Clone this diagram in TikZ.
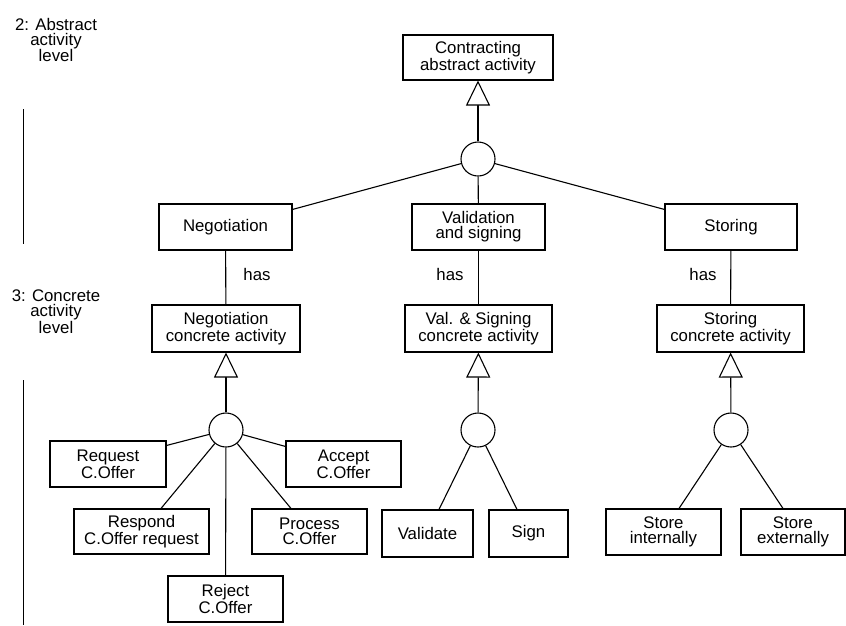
\documentclass[tikz,border=0pt]{standalone}
\usepackage{fontspec}
\setmainfont{Liberation Sans}
\usetikzlibrary{arrows.meta}
\begin{document}
\begin{tikzpicture}[x=1pt,y=-1pt,line width=1.1pt,
  every node/.style={font=\fontsize{16.8pt}{15pt}\selectfont},
  box/.style={draw,rectangle,align=center,inner sep=0pt},
  junction/.style={draw,circle,minimum size=34pt,inner sep=0pt},
  lbl/.style={align=center,inner sep=0pt},
  isa/.style={-{Triangle[open,length=25pt,width=24pt,fill=white]}}]
\useasboundingbox (0,0) rectangle (846,625);
% level labels
\node[lbl] (l2) at (56,40) {2: Abstract\\activity\\level};
\node[lbl] (l3) at (56,312) {3: Concrete\\activity\\level};
\coordinate (s1a) at (23.5,109);
\coordinate (s1b) at (23.5,244);
\coordinate (s2a) at (23.5,380);
\coordinate (s2b) at (23.5,625);
\draw (s1a) -- (s1b);
\draw (s2a) -- (s2b);
% abstract
\node[box,minimum width=150pt,minimum height=45pt] (top) at (478,57.5) {Contracting\\abstract activity};
\node[junction] (c0) at (478,159) {};
\node[box,minimum width=133pt,minimum height=46pt] (neg) at (225.5,227) {Negotiation};
\node[box,minimum width=133pt,minimum height=46pt] (val) at (478.5,227) {Validation\\and signing};
\node[box,minimum width=132pt,minimum height=46pt] (sto) at (731,227) {Storing};
\draw[isa] (c0) -- (top);
\draw (c0) -- ([yshift=-6pt]neg.north east);
\draw (c0) -- (val);
\draw (c0) -- ([yshift=-6pt]sto.north west);
% concrete
\node[box,minimum width=148pt,minimum height=47pt] (negc) at (226,328.5) {Negotiation\\concrete activity};
\node[box,minimum width=147pt,minimum height=47pt] (valc) at (478.5,328.5) {Val. \& Signing\\concrete activity};
\node[box,minimum width=147pt,minimum height=47pt] (stoc) at (730.5,328.5) {Storing\\concrete activity};
\draw (neg) -- (negc);
\draw (val) -- (valc);
\draw (sto) -- (stoc);
\node[lbl] (h1) at (257,274) {has};
\node[lbl] (h2) at (450,274) {has};
\node[lbl] (h3) at (703,274) {has};
% junctions
\node[junction] (cn) at (226,430) {};
\node[junction] (cv) at (478,430) {};
\node[junction] (cs) at (731,430) {};
\draw[isa] (cn) -- (negc);
\draw[isa] (cv) -- (valc);
\draw[isa] (cs) -- (stoc);
% negotiation children
\node[box,minimum width=116pt,minimum height=46pt] (req) at (108,464) {Request\\C.Offer};
\node[box,minimum width=115pt,minimum height=46pt] (acc) at (343.5,464) {Accept\\C.Offer};
\node[box,minimum width=135pt,minimum height=45pt] (res) at (141.5,531.5) {Respond\\C.Offer request};
\node[box,minimum width=115pt,minimum height=45pt] (pro) at (309.5,531.5) {Process\\C.Offer};
\node[box,minimum width=115pt,minimum height=46pt] (rej) at (225.5,599) {Reject\\C.Offer};
\draw (cn) -- ([yshift=-5pt]req.north east);
\draw (cn) -- ([yshift=-6pt]acc.north west);
\draw (cn) -- ([xshift=19.5pt]res.north);
\draw (cn) -- ([xshift=-18.5pt]pro.north);
\draw (cn) -- (rej);
% validation children
\node[box,minimum width=91pt,minimum height=47pt] (vld) at (427.5,533.5) {Validate};
\node[box,minimum width=79pt,minimum height=47pt] (sgn) at (528.5,533.5) {Sign};
\draw (cv) -- ([xshift=11.5pt]vld.north);
\draw (cv) -- ([xshift=-11.5pt]sgn.north);
% storing children
\node[box,minimum width=115pt,minimum height=46pt] (sti) at (663.5,532) {Store\\internally};
\node[box,minimum width=104pt,minimum height=46pt] (ste) at (793,532) {Store\\externally};
\draw (cs) -- ([xshift=15.5pt]sti.north);
\draw (cs) -- ([xshift=-10pt]ste.north);
\end{tikzpicture}
\end{document}
